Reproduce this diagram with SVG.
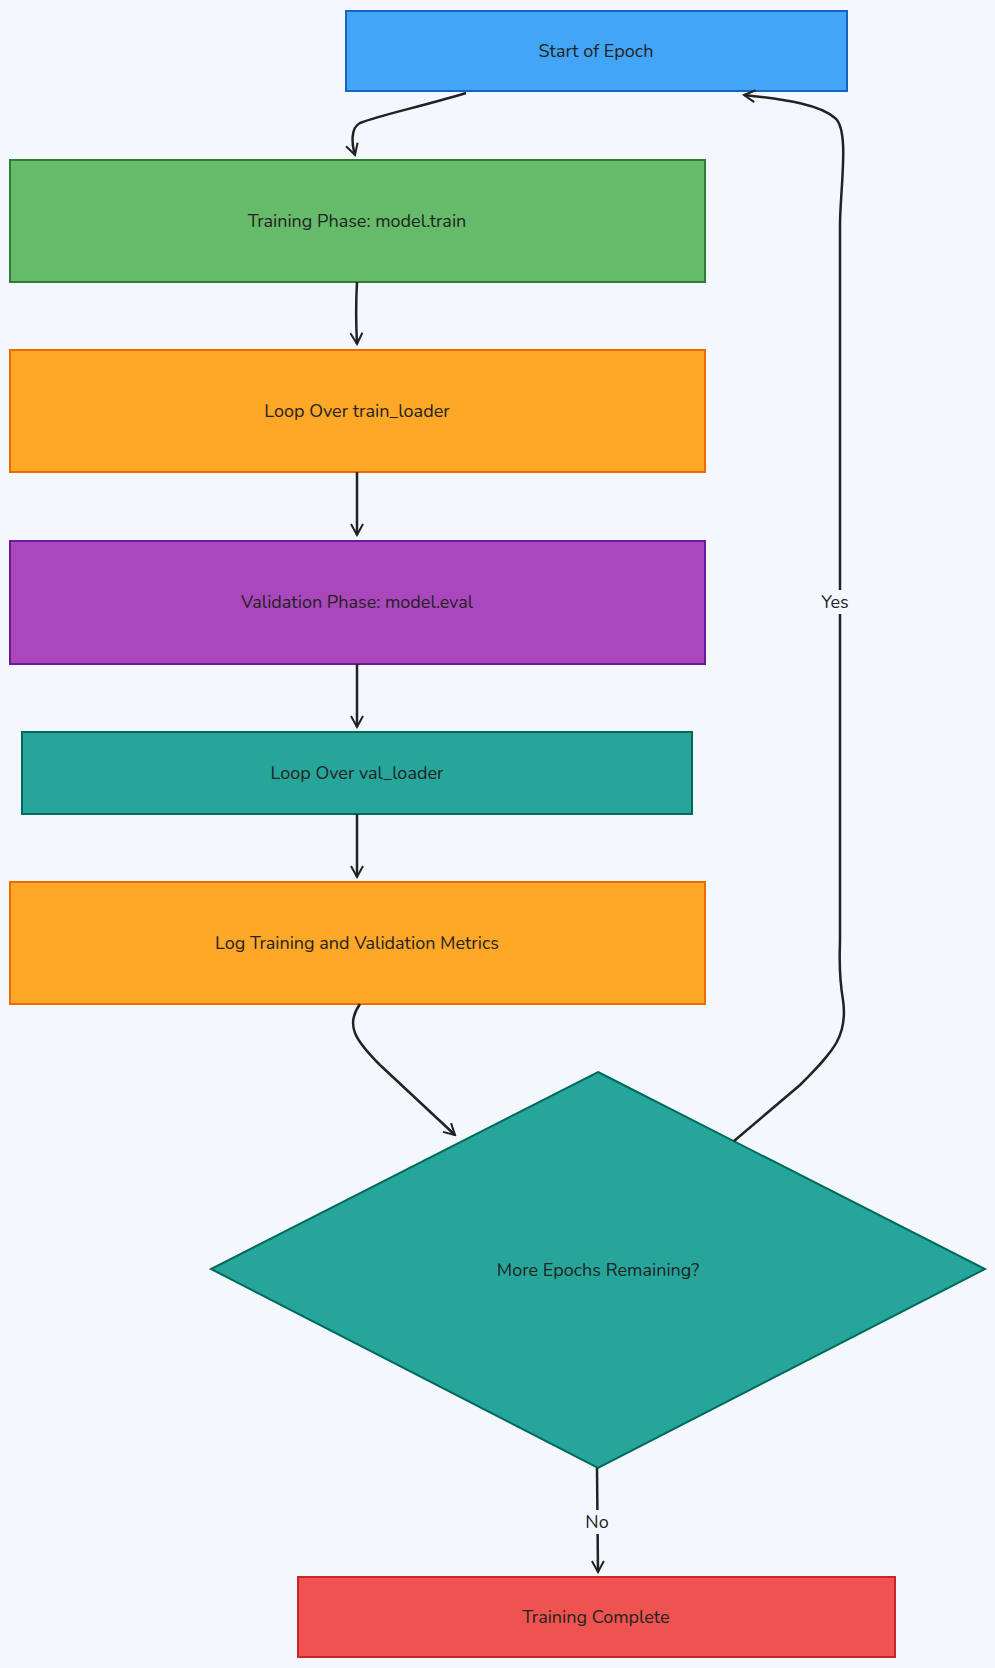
<svg xmlns="http://www.w3.org/2000/svg" width="995" height="1668" viewBox="0 0 995 1668">
<defs>
<marker id="ah" markerWidth="14" markerHeight="14" refX="12" refY="7" orient="auto" markerUnits="userSpaceOnUse"><path d="M1,1 L12,7 L1,13" fill="none" stroke="#222" stroke-width="2"/></marker>
</defs>
<style>
text{font-family:"Nunito","Noto Sans","Liberation Sans",sans-serif;font-size:18px;text-anchor:middle;dominant-baseline:central;fill:#222}
.n{stroke-width:2}
.e{fill:none;stroke:#222;stroke-width:2.5;marker-end:url(#ah)}
.lbl{fill:#f3f8fe}
</style>
<rect width="995" height="1668" fill="#f3f8fe"/>
<g id="start"><rect class="n" x="346" y="11" width="501" height="80" fill="#42a5f5" stroke="#1565c0"/><text x="596" y="51">Start of Epoch</text></g>
<g id="train"><rect class="n" x="10" y="160" width="695" height="122" fill="#66bb6a" stroke="#2e7d32"/><text x="357" y="221">Training Phase: model.train</text></g>
<g id="looptrain"><rect class="n" x="10" y="350" width="695" height="122" fill="#ffa726" stroke="#ef6c00"/><text x="357" y="411" fill="#000">Loop Over train_loader</text></g>
<g id="val"><rect class="n" x="10" y="541" width="695" height="123" fill="#ab47bc" stroke="#6a1b9a"/><text x="357" y="602">Validation Phase: model.eval</text></g>
<g id="loopval"><rect class="n" x="22" y="732" width="670" height="82" fill="#26a69a" stroke="#00695c"/><text x="357" y="773">Loop Over val_loader</text></g>
<g id="log"><rect class="n" x="10" y="882" width="695" height="122" fill="#ffa726" stroke="#ef6c00"/><text x="357" y="943" fill="#000">Log Training and Validation Metrics</text></g>
<g id="decision"><polygon class="n" points="598,1072 985,1269 598,1468 211,1269" fill="#26a69a" stroke="#00695c"/><text x="598" y="1270">More Epochs Remaining?</text></g>
<g id="done"><rect class="n" x="298" y="1577" width="597" height="80" fill="#ef5350" stroke="#c62828"/><text x="596" y="1617">Training Complete</text></g>
<g id="edges">
<path class="e" d="M466,93 C420,107 380,115 360,123 C350,128 352,145 355,155"/>
<path class="e" d="M357,282 C356,300 356,325 357,344"/>
<path class="e" d="M357,472 L357,535"/>
<path class="e" d="M357,664 L357,727"/>
<path class="e" d="M357,814 L357,877"/>
<path class="e" d="M360,1004 C345,1025 355,1040 380,1065 L455,1135"/>
<path class="e" d="M734,1141 L800,1085 C835,1050 848,1035 843,1000 C838,970 840,950 840,940 L840,225 C840,190 850,130 835,118 C820,105 790,100 744,95"/>
<path class="e" d="M597,1468 L598,1572"/>
<rect class="lbl" x="815" y="590" width="40" height="24"/><text x="835" y="602">Yes</text>
<rect class="lbl" x="580" y="1510" width="34" height="24"/><text x="597" y="1522">No</text>
</g>
</svg>
